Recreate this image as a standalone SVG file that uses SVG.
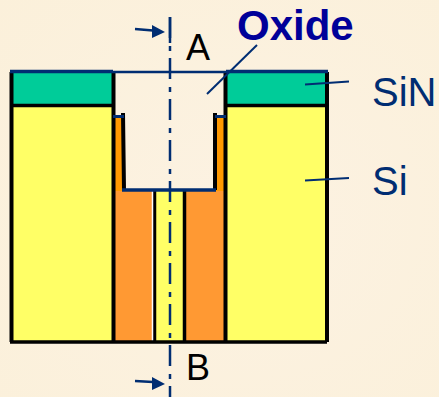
<svg xmlns="http://www.w3.org/2000/svg" width="439" height="397" viewBox="0 0 439 397">
<defs>
<style>
.k{stroke:#000;stroke-width:4;fill:none}
.n{stroke:#002d72;fill:none}
.t{font-family:"Liberation Sans",Arial,sans-serif}
.lab{font-size:40px;fill:#002d72}
.sec{font-size:36px;fill:#000}
</style>
<radialGradient id="m1" cx="0.55" cy="0.55" r="0.8"><stop offset="0" stop-color="#fcf2e2"/><stop offset="1" stop-color="#fbf0da"/></radialGradient>
</defs>
<rect width="439" height="397" fill="url(#m1)"/>
<g id="si-left"><rect x="12" y="106" width="101" height="236" fill="#ffff66"/></g>
<g id="si-right"><rect x="226" y="106" width="100" height="236" fill="#ffff66"/></g>
<g id="sin-left"><rect x="12" y="72" width="101" height="33" fill="#00cc99"/></g>
<g id="sin-right"><rect x="226" y="72" width="100" height="33" fill="#00cc99"/></g>
<g id="liner">
<rect x="115" y="117" width="8" height="74" fill="#ff9900"/>
<rect x="216" y="117" width="9" height="74" fill="#ff9900"/>
</g>
<g id="fill-left"><rect x="115" y="191" width="38" height="150" fill="#ff9933"/></g>
<g id="fill-right"><rect x="185" y="191" width="40" height="150" fill="#ff9933"/></g>
<g id="core"><rect x="156" y="191" width="28" height="150" fill="#ffff66"/></g>
<g id="outlines">
<path class="k" d="M11.500 72V342M113.500 72V342M225.500 72V342M327 72V342"/>
<path class="k" style="stroke-width:3.500" d="M11 105.500H113M226 105.500H327"/>
<path class="k" d="M123 113L124 190M215 113V190"/>
<path class="k" style="stroke-width:3.500" d="M154.500 191V342M184.500 191V342"/>
<path d="M152.500 191V341" stroke="#fff" stroke-width="1.500"/>
<path class="k" style="stroke-width:3.500" d="M10 342H327"/>
</g>
<g id="connectors">
<path class="n" stroke-width="3.500" d="M10 71.500H113M226 71.500H328"/>
<path class="n" stroke-width="2.500" d="M113 72H226"/>
<path class="n" stroke-width="3" d="M113 116.500H124M215 116.500H226"/>
<path class="n" stroke-width="3.500" d="M122 190H216"/>
<path class="n" stroke-width="2.500" d="M170 17V43"/>
<path class="n" stroke-width="2.500" stroke-dasharray="21 8 5 7" d="M170 17V397"/>
<path class="n" stroke-width="2.500" d="M135 29L153 30.500M135 381L153 382"/>
<path fill="#002d72" d="M152 25L165 32L152 38ZM152 377L165 384L152 390Z"/>
<path class="n" stroke-width="2" d="M207 94L257 45"/>
<path class="n" stroke-width="2" d="M305 84.500L349 81.500M305 180.500L349 178"/>
</g>
<g id="labels" class="t">
<text class="sec" x="186" y="60">A</text>
<text class="sec" x="186" y="380">B</text>
<text x="237" y="40" font-size="42" font-weight="bold" fill="#000099">Oxide</text>
<text class="lab" x="372" y="106">SiN</text>
<text class="lab" x="372" y="195">Si</text>
</g>
</svg>
